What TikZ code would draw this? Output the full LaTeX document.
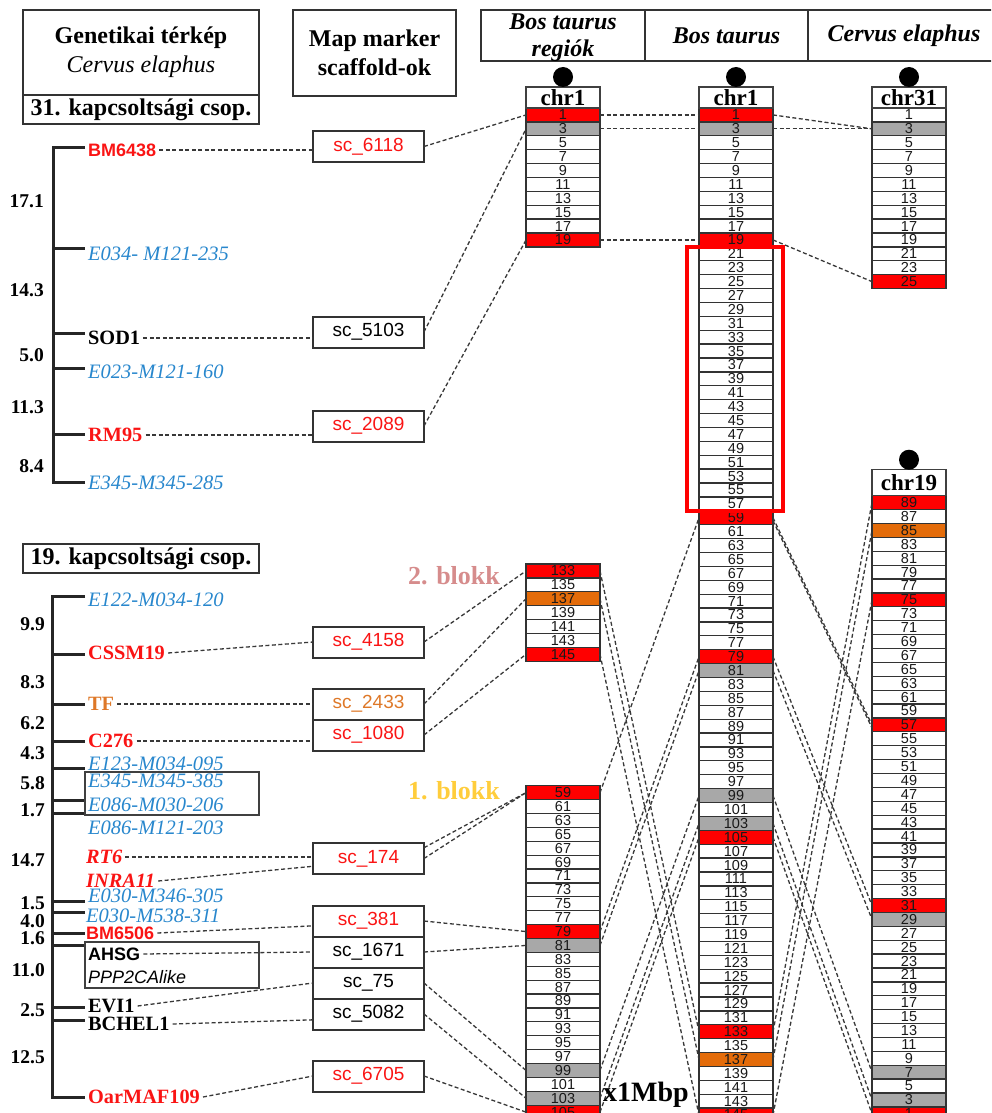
\documentclass[tikz,border=0pt]{standalone}
\usepackage{fontspec}
\setmainfont{Liberation Serif}
\newfontfamily\arialfont{Liberation Sans}
\usepackage{xcolor}
\definecolor{segred}{RGB}{255, 0, 0}
\definecolor{seggray}{RGB}{168, 168, 168}
\definecolor{segorange}{RGB}{228, 108, 10}
\definecolor{markred}{RGB}{250, 20, 20}
\definecolor{markblue}{RGB}{40, 135, 205}
\definecolor{markorange}{RGB}{222, 120, 40}
\definecolor{blokkpink}{RGB}{214, 140, 140}
\definecolor{blokkgold}{RGB}{255, 205, 60}
\usepackage{tikz}
\usetikzlibrary{positioning}
\newcommand{\hdrfont}{\fontsize{24}{29}\selectfont\bfseries}
\newcommand{\chrfont}{\fontsize{23}{25}\selectfont\bfseries}
\newcommand{\segfont}{\arialfont\fontsize{14.5}{15}\selectfont}
\newcommand{\scfont}{\arialfont\fontsize{19}{21}\selectfont}
\newcommand{\mkser}{\fontsize{20.3}{22}\selectfont\bfseries}
\newcommand{\mksan}{\arialfont\fontsize{18}{20}\selectfont\bfseries}
\newcommand{\mkblue}{\fontsize{20.5}{22}\selectfont\itshape}
\newcommand{\cmfont}{\fontsize{19.5}{21}\selectfont\bfseries}
\newcommand{\blokkfont}{\fontsize{26}{28}\selectfont\bfseries}

\begin{document}
\begin{tikzpicture}[x=1pt, y=-1pt,
    seg/.style={draw=black!80, line width=1.3pt, fill=white, minimum width=74pt, minimum height=13.89pt, inner sep=0pt, outer sep=0pt, font=\segfont, text=black!90},
    chrlabel/.style={draw=black!75, line width=1.2pt, fill=white, minimum width=74pt, minimum height=21pt, inner sep=0pt, outer sep=0pt, font=\chrfont},
    scbox/.style={draw=black!80, line width=2pt, minimum width=111pt, minimum height=31pt, inner sep=0pt, outer sep=0pt, font=\scfont},
    hdrbox/.style={draw=black!80, line width=1.2pt, inner sep=0pt, outer sep=0pt, align=center, font=\hdrfont},
    grpbox/.style={draw=black!75, line width=1.2pt},
    mapline/.style={line width=3pt, black!85},
    link/.style={black!78, line width=1.3pt, dash pattern=on 4pt off 2.5pt},
    mklabel/.style={anchor=west, inner xsep=3pt, inner ysep=0pt},
    cmdist/.style={anchor=east, inner sep=0pt, font=\cmfont}]
    \useasboundingbox (0,0) rectangle (991,1113);
    \clip (0,0) rectangle (991,1113);

    % headers
    \node[hdrbox, minimum width=236pt, minimum height=85pt] (genhdr) at (141,52.5) {Genetikai térkép\\{\mdseries\itshape Cervus elaphus}};
    \node[hdrbox, minimum width=236pt, minimum height=29pt, below=0pt of genhdr] (lg31) {31. kapcsoltsági csop.};
    \node[hdrbox, minimum width=163pt, minimum height=86pt] (mmhdr) at (374.5,53) {Map marker\\scaffold-ok};
    \node[hdrbox, font=\fontsize{24}{27}\selectfont\bfseries\itshape, minimum width=164pt, minimum height=51pt, text depth=0pt] (hreg) at (563,35.5) {Bos taurus\\regiók};
    \node[hdrbox, font=\hdrfont\itshape, minimum width=163pt, minimum height=51pt, right=0pt of hreg] (hbos) {Bos taurus};
    \node[hdrbox, font=\hdrfont\itshape, minimum width=192pt, minimum height=51pt, right=0pt of hbos] (hcerv) {Cervus elaphus};

    % 31. kapcsoltsagi csoport
    \draw[mapline] (85,147) -- (53,147) -- (53,482) -- (85,482);
    \foreach \y in {248,333,368,434} \draw[mapline] (53,\y) -- (85,\y);
    \foreach \y/\d in {201/17.1, 290/14.3, 355/5.0, 407/11.3, 466/8.4}
        \node[cmdist] (cm\y) at (44,\y) {\d};
    \node[mklabel, font=\mksan, text=markred] (bm6438) at (85,150) {BM6438};
    \node[mklabel, font=\mkblue, text=markblue] (e034) at (85,254) {E034- M121-235};
    \node[mklabel, font=\mkser] (sod1) at (85,338) {SOD1};
    \node[mklabel, font=\mkblue, text=markblue] (e023) at (85,372) {E023-M121-160};
    \node[mklabel, font=\mkser, text=markred] (rm95) at (85,435) {RM95};
    \node[mklabel, font=\mkblue, text=markblue] (e345a) at (85,483) {E345-M345-285};

    \node[scbox, text=markred] (sc6118) at (368.5,146.5) {sc\_6118};
    \node[scbox] (sc5103) at (368.5,332) {sc\_5103};
    \node[scbox, text=markred] (sc2089) at (368.5,426) {sc\_2089};

    % 19. kapcsoltsagi csoport
    \node[hdrbox, minimum width=236pt, minimum height=29pt] (lg19) at (141,558.5) {19. kapcsoltsági csop.};
    \draw[mapline] (85,596) -- (52,596) -- (52,1097) -- (85,1097);
    \foreach \y in {654,704,741,768,800,813,901,912,933,945,1007,1020} \draw[mapline] (52,\y) -- (85,\y);
    \foreach \y/\d in {624/9.9, 682/8.3, 723/6.2, 753/4.3, 783/5.8, 810/1.7, 860/14.7, 903/1.5, 921/4.0, 938/1.6, 970/11.0, 1010/2.5, 1057/12.5}
        \node[cmdist] (cm\y) at (45,\y) {\d};
    \node[mklabel, font=\mkblue, text=markblue] (e122) at (85,600) {E122-M034-120};
    \node[mklabel, font=\mkser, text=markred] (cssm19) at (85,653) {CSSM19};
    \node[mklabel, font=\mkser, text=markorange] (tf) at (85,704) {TF};
    \node[mklabel, font=\mkser, text=markred] (c276) at (85,741) {C276};
    \node[mklabel, font=\mkblue, text=markblue] (e123) at (85,764) {E123-M034-095};
    \node[mklabel, font=\mkblue, text=markblue] (e345b) at (85,781) {E345-M345-385};
    \node[mklabel, font=\mkblue, text=markblue] (e086a) at (85,805) {E086-M030-206};
    \node[mklabel, font=\mkblue, text=markblue] (e086b) at (85,828) {E086-M121-203};
    \node[mklabel, font=\mkser\itshape, text=markred] (rt6) at (83,857) {RT6};
    \node[mklabel, font=\mkser\itshape, text=markred] (inra11) at (83,881) {INRA11};
    \node[mklabel, font=\mkblue, text=markblue] (e030a) at (85,896) {E030-M346-305};
    \node[mklabel, font=\mkblue, text=markblue] (e030b) at (83,916) {E030-M538-311};
    \node[mklabel, font=\mksan, text=markred] (bm6506) at (83,933) {BM6506};
    \node[mklabel, font=\mksan] (ahsg) at (85,954) {AHSG};
    \node[mklabel, font=\arialfont\fontsize{18}{20}\selectfont\itshape] (ppp2c) at (85,977) {PPP2CAlike};
    \node[mklabel, font=\mkser] (evi1) at (85,1006) {EVI1};
    \node[mklabel, font=\mkser] (bchel1) at (85,1024) {BCHEL1};
    \node[mklabel, font=\mkser, text=markred] (oarmaf109) at (85,1097) {OarMAF109};
    \draw[grpbox] (85,772) rectangle (259,815);
    \draw[grpbox] (85,942) rectangle (259,988);

    \node[scbox, text=markred] (sc4158) at (368.5,642) {sc\_4158};
    \node[scbox, text=markorange] (sc2433) at (368.5,704) {sc\_2433};
    \node[scbox, text=markred, below=0pt of sc2433] (sc1080) {sc\_1080};
    \node[scbox, text=markred] (sc174) at (368.5,858.5) {sc\_174};
    \node[scbox, text=markred] (sc381) at (368.5,921) {sc\_381};
    \node[scbox, below=0pt of sc381] (sc1671) {sc\_1671};
    \node[scbox, below=0pt of sc1671] (sc75) {sc\_75};
    \node[scbox, below=0pt of sc75] (sc5082) {sc\_5082};
    \node[scbox, text=markred] (sc6705) at (368.5,1076) {sc\_6705};

    % Bos taurus regiok
    \foreach \n in {1,3,...,19} \node[seg] (r\n) at (563,{108+\n*6.945}) {\n};
    \foreach \n in {133,135,...,145} \node[seg] (r\n) at (563,{564+(\n-132)*6.945}) {\n};
    \foreach \n in {59,61,...,105} \node[seg] (r\n) at (563,{785.7+(\n-58)*6.945}) {\n};
    \foreach \n/\f in {1/segred,3/seggray,19/segred,133/segred,137/segorange,145/segred,59/segred,79/segred,81/seggray,99/seggray,103/seggray,105/segred}
        \node[seg, fill=\f] (r\n) at (r\n) {\n};
    % Bos taurus chr1
    \foreach \n in {1,3,...,145} \node[seg] (b\n) at (736,{108+\n*6.945}) {\n};
    \foreach \n/\f in {1/segred,3/seggray,19/segred,59/segred,79/segred,81/seggray,99/seggray,103/seggray,105/segred,133/segred,137/segorange,145/segred}
        \node[seg, fill=\f] (b\n) at (b\n) {\n};
    % Cervus elaphus chr31, chr19
    \foreach \n in {1,3,...,25} \node[seg] (c\n) at (909,{108+\n*6.945}) {\n};
    \foreach \n/\f in {3/seggray,25/segred} \node[seg, fill=\f] (c\n) at (c\n) {\n};
    \foreach \n in {89,87,...,1} \node[seg] (d\n) at (909,{495.7+(90-\n)*6.945}) {\n};
    \foreach \n/\f in {89/segred,85/segorange,75/segred,57/segred,31/segred,29/seggray,7/seggray,3/seggray,1/segred}
        \node[seg, fill=\f] (d\n) at (d\n) {\n};

    \node[chrlabel, above=0pt of r1] (rchr) {chr1};
    \node[chrlabel, above=0pt of b1] (bchr) {chr1};
    \node[chrlabel, above=0pt of c1] (cchr) {chr31};
    \node[chrlabel, minimum height=26pt, above=0pt of d89] (dchr) {chr19};
    \foreach \c in {rchr,bchr,cchr,dchr} \fill ([yshift=10pt]\c.north) circle (10pt);

    \draw[segred, line width=3.5pt] ([xshift=-12pt]b21.north west) rectangle ([xshift=10pt]b57.south east);

    % markers -> scaffolds
    \draw[link] (bm6438.east) -- (bm6438.east -| sc6118.west);
    \draw[link] (sod1.east) -- (sod1.east -| sc5103.west);
    \draw[link] (rm95.east) -- (rm95.east -| sc2089.west);
    \draw[link] (cssm19.east) -- (sc4158.west);
    \draw[link] (tf.east) -- (sc2433.west);
    \draw[link] (c276.east) -- (c276.east -| sc1080.west);
    \draw[link] (rt6.east) -- (rt6.east -| sc174.west);
    \draw[link] (inra11.east) -- (sc174.188);
    \draw[link] (bm6506.east) -- (sc381.185);
    \draw[link] (ahsg.east) -- (sc1671.west);
    \draw[link] (evi1.east) -- (sc75.west);
    \draw[link] (bchel1.east) -- (sc5082.186);
    \draw[link] (oarmaf109.east) -- (sc6705.west);

    % scaffolds -> regiok
    \foreach \s/\r in {6118/1, 5103/3, 2089/19, 4158/133, 2433/137, 1080/145, 381/79, 1671/81, 75/99, 5082/103, 6705/105}
        \draw[link] (sc\s.east) -- (r\r.west);
    \draw[link] (sc174.11) -- (r59.west);
    \draw[link] (sc174.east) -- (r59.west);

    % regiok -> Bos taurus -> Cervus elaphus
    \foreach \n in {1,3,19,133,137,145,59,79,81,99,103,105}
        \draw[link] (r\n.east) -- (b\n.west);
    \foreach \a/\c in {1/3, 3/3, 19/25}
        \draw[link] (b\a.east) -- (c\c.west);
    \foreach \a/\d in {59/57, 79/31, 81/29, 99/7, 103/3, 105/1, 133/89, 137/85, 145/75}
        \draw[link] (b\a.east) -- (d\d.west);
    \draw[link] ([yshift=-3pt]b59.east) -- ([yshift=-3pt]d57.west);

    \node[font=\blokkfont, text=blokkpink] (blokk2) at (454,576) {2. blokk};
    \node[font=\blokkfont, text=blokkgold] (blokk1) at (454,791) {1. blokk};
    \node[font=\fontsize{28}{30}\selectfont\bfseries, inner sep=0pt] (scale) at (646,1095) {x1Mbp};
\end{tikzpicture}
\end{document}
